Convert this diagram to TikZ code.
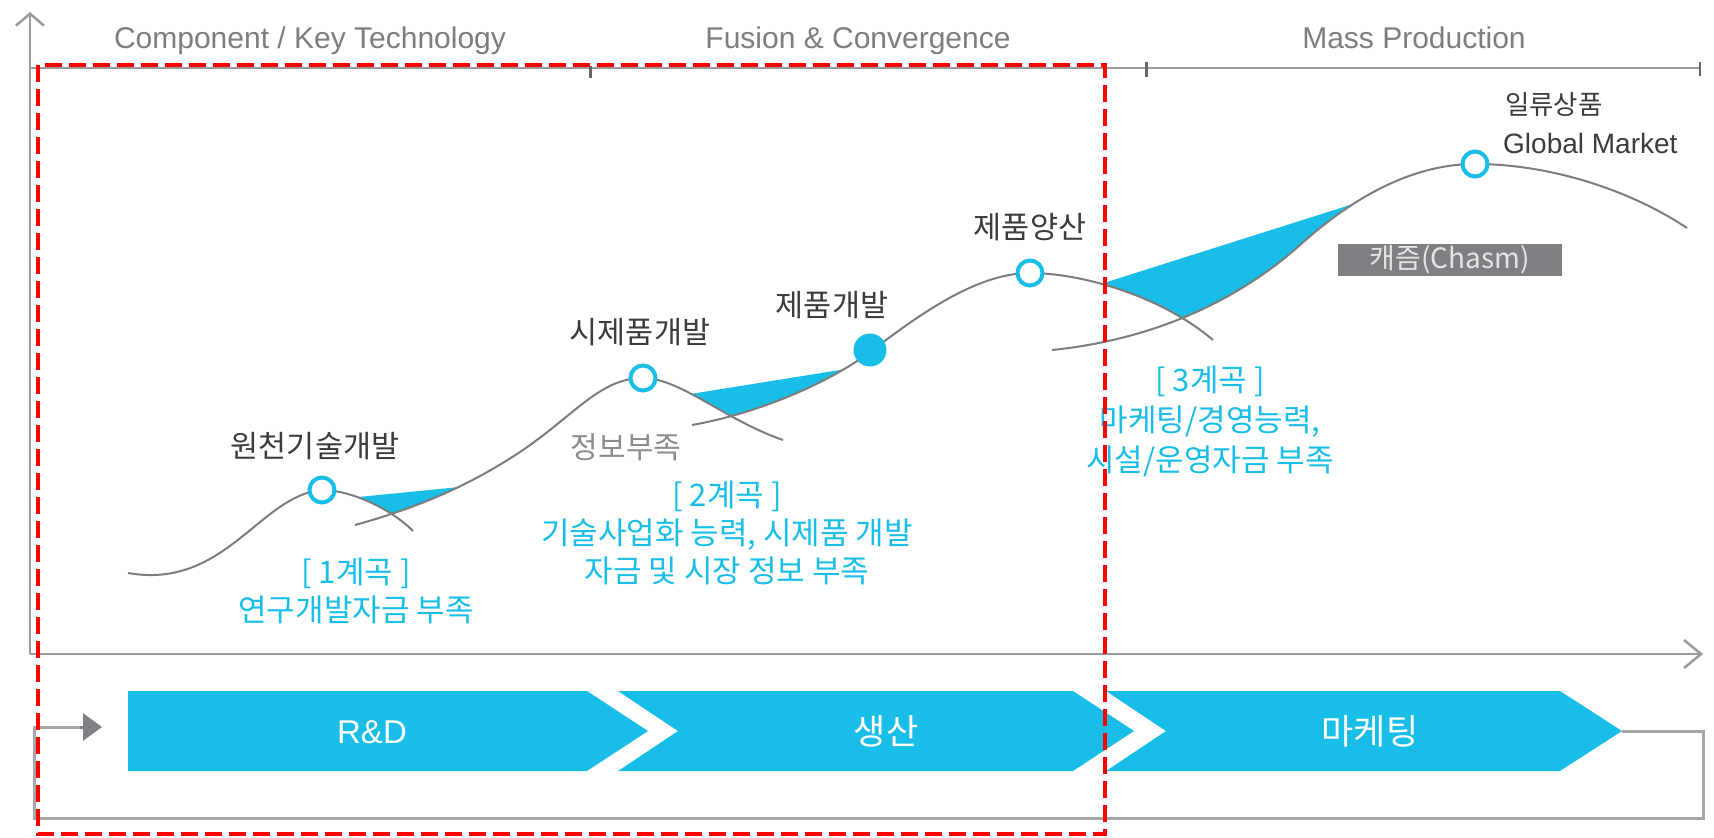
\documentclass[tikz,border=0pt]{standalone}
\usepackage{fontspec}
\setmainfont{Noto Sans CJK KR}
\newfontfamily\lat{Liberation Sans}
\usetikzlibrary{arrows.meta}
\definecolor{cblue}{RGB}{24,190,232}
\definecolor{ccurve}{RGB}{125,125,125}
\definecolor{caxis}{RGB}{155,155,155}
\definecolor{cloop}{RGB}{165,165,165}
\definecolor{chead}{RGB}{128,128,133}
\definecolor{cdark}{RGB}{60,60,60}
\definecolor{ctitle}{RGB}{125,125,130}
\definecolor{cinfo}{RGB}{140,140,140}
\definecolor{cbox}{RGB}{128,128,132}
\definecolor{cboxtext}{RGB}{228,228,228}
\definecolor{cred}{RGB}{255,0,0}
\begin{document}
\begin{tikzpicture}[x=1pt,y=-1pt,
  curve/.style={draw=ccurve, line width=2pt},
  axisline/.style={draw=caxis, line width=2.5pt},
  tickmark/.style={draw=black!60, line width=3pt},
  hollow/.style={circle, draw=cblue, line width=4pt, fill=white, minimum size=25pt, inner sep=0pt},
  solid dot/.style={circle, fill=cblue, minimum size=33pt, inner sep=0pt},
  lbl/.style={font=\fontsize{30.5}{34}\selectfont, text=cdark, inner sep=0pt},
  vlbl/.style={font=\fontsize{31}{38}\selectfont, text=cblue, align=center, inner sep=0pt},
  title/.style={font=\lat\fontsize{30}{34}\selectfont, text=ctitle, anchor=base, inner sep=0pt},
  chev/.style={fill=cblue},
  chevtext/.style={text=white, inner sep=0pt},
  looppath/.style={draw=cloop, line width=3pt},
]
\useasboundingbox (0,0) rectangle (1714,838);
\fill[white] (0,0) rectangle (1714,838);

% ---- blue chasm fills ----
\begin{scope}
\clip (322,0) -- (322,490) .. controls (350,490) and (390,508) .. (413,531) -- (413,838) -- (1714,838) -- (1714,0) -- cycle;
\clip (355,838) -- (355,525) .. controls (420,507) and (470,485) .. (520,452) -- (520,0) -- (0,0) -- (0,838) -- cycle;
\fill[cblue] (340,498.8) -- (480,485.0) -- (480,838) -- (340,838) -- cycle;
\end{scope}
\begin{scope}
\clip (643,0) -- (643,378) .. controls (680,378) and (725,420) .. (783,440) -- (783,838) -- (1714,838) -- (1714,0) -- cycle;
\clip (692,838) -- (692,425) .. controls (760,413) and (830,382) .. (870,352) -- (870,0) -- (0,0) -- (0,838) -- cycle;
\fill[cblue] (680,395.7) -- (860,366.8) -- (860,838) -- (680,838) -- cycle;
\end{scope}
\begin{scope}
\clip (1030,0) -- (1030,273) .. controls (1080,273) and (1160,295) .. (1213,340) -- (1213,838) -- (1714,838) -- (1714,0) -- cycle;
\clip (1052,838) -- (1052,350) .. controls (1150,340) and (1235,303) .. (1300,245) .. controls (1350,200) and (1410,164) .. (1475,164) -- (1475,0) -- (0,0) -- (0,838) -- cycle;
\fill[cblue] (1090,287.4) -- (1380,195.5) -- (1380,838) -- (1090,838) -- cycle;
\end{scope}

% ---- curves ----
\draw[curve] (128,573) .. controls (225,590) and (260,495) .. (322,490)
  .. controls (350,490) and (390,508) .. (413,531);
\draw[curve] (355,525) .. controls (420,507) and (470,485) .. (520,452)
  .. controls (575,415) and (600,378) .. (643,378)
  .. controls (680,378) and (725,420) .. (783,440);
\draw[curve] (692,425) .. controls (760,413) and (830,382) .. (870,352)
  .. controls (915,318) and (975,273) .. (1030,273)
  .. controls (1080,273) and (1160,295) .. (1213,340);
\draw[curve] (1052,350) .. controls (1150,340) and (1235,303) .. (1300,245)
  .. controls (1350,200) and (1410,164) .. (1475,164)
  .. controls (1550,164) and (1630,190) .. (1687,228);

% ---- milestone markers ----
\node[hollow] (m1) at (322,490) {};
\node[hollow] (m2) at (643,378) {};
\node[solid dot] (m3) at (870,350) {};
\node[hollow] (m4) at (1030,273) {};
\node[hollow] (m5) at (1475,164) {};

% ---- labels ----
\node[lbl] (n1) at (315,446) {원천기술개발};
\node[vlbl] (v1) at (356,591) {[ 1계곡 ]\\연구개발자금 부족};
\node[lbl] (n2) at (640,332) {시제품개발};
\node[lbl, text=cinfo, font=\fontsize{30}{34}\selectfont] (info) at (626,447) {정보부족};
\node[lbl] (n3) at (832,305) {제품개발};
\node[vlbl] (v2) at (727,533) {[ 2계곡 ]\\기술사업화 능력, 시제품 개발\\자금 및 시장 정보 부족};
\node[lbl] (n4) at (1030,227) {제품양산};
\node[vlbl, font=\fontsize{31}{40}\selectfont] (v3) at (1210,421) {[ 3계곡 ]\\마케팅/경영능력,\\시설/운영자금 부족};
\node[lbl, anchor=west, font=\fontsize{26.5}{32}\selectfont] (n5) at (1505,105) {일류상품};
\node[lbl, anchor=west, font=\lat\fontsize{28}{32}\selectfont] (gm) at (1503,143) {Global Market};
\node[fill=cbox, minimum width=224pt, minimum height=32pt, inner sep=0pt,
      text=cboxtext, font=\fontsize{28}{30}\selectfont] (chasm) at (1450,260) {캐즘(Chasm)};

% ---- axes ----
\draw[axisline, -{Straight Barb[length=12pt,width=28pt]}] (30,654) -- (30,12);
\draw[axisline, -{Straight Barb[length=17pt,width=28pt]}] (30,654) -- (1703,654);

% ---- top timeline ----
\draw[axisline] (30,68) -- (1700,68);
\draw[tickmark] (590,66) -- (590,78);
\draw[tickmark] (1146,62) -- (1146,77);
\draw[tickmark, line width=2pt] (1700,62) -- (1700,76);
\node[title] (t1) at (310,48) {Component / Key Technology};
\node[title] (t2) at (858,48) {Fusion \& Convergence};
\node[title] (t3) at (1414,48) {Mass Production};

% ---- process chevrons ----
\fill[chev] (128,691) -- (587,691) -- (648,731) -- (587,771) -- (128,771) -- cycle;
\fill[chev] (618,691) -- (1073,691) -- (1134,731) -- (1073,771) -- (618,771) -- (678,731) -- cycle;
\fill[chev] (1106,691) -- (1560,691) -- (1622,731) -- (1560,771) -- (1106,771) -- (1166,731) -- cycle;
\coordinate (rdIn) at (102,727);
\coordinate (mkTip) at (1622,731);
\node[chevtext, font=\lat\fontsize{33}{36}\selectfont] (c1) at (372,732) {R\&D};
\node[chevtext, font=\fontsize{35}{38}\selectfont] (c2) at (886,731) {생산};
\node[chevtext, font=\fontsize{35}{38}\selectfont] (c3) at (1370,731) {마케팅};

% ---- feedback loop ----
\draw[looppath] (mkTip) -- (1703,731) -- (1703,818) -- (34,818) -- (34,727) -- (84,727);
\draw[draw=chead, line width=3pt, -{Triangle[length=19pt,width=27pt]}, color=chead] (80,727) -- (rdIn);

% ---- red dashed highlight ----
\draw[draw=cred, line width=4.5pt, dash pattern=on 17pt off 7pt] (38,65) rectangle (1105,834);
\end{tikzpicture}
\end{document}
